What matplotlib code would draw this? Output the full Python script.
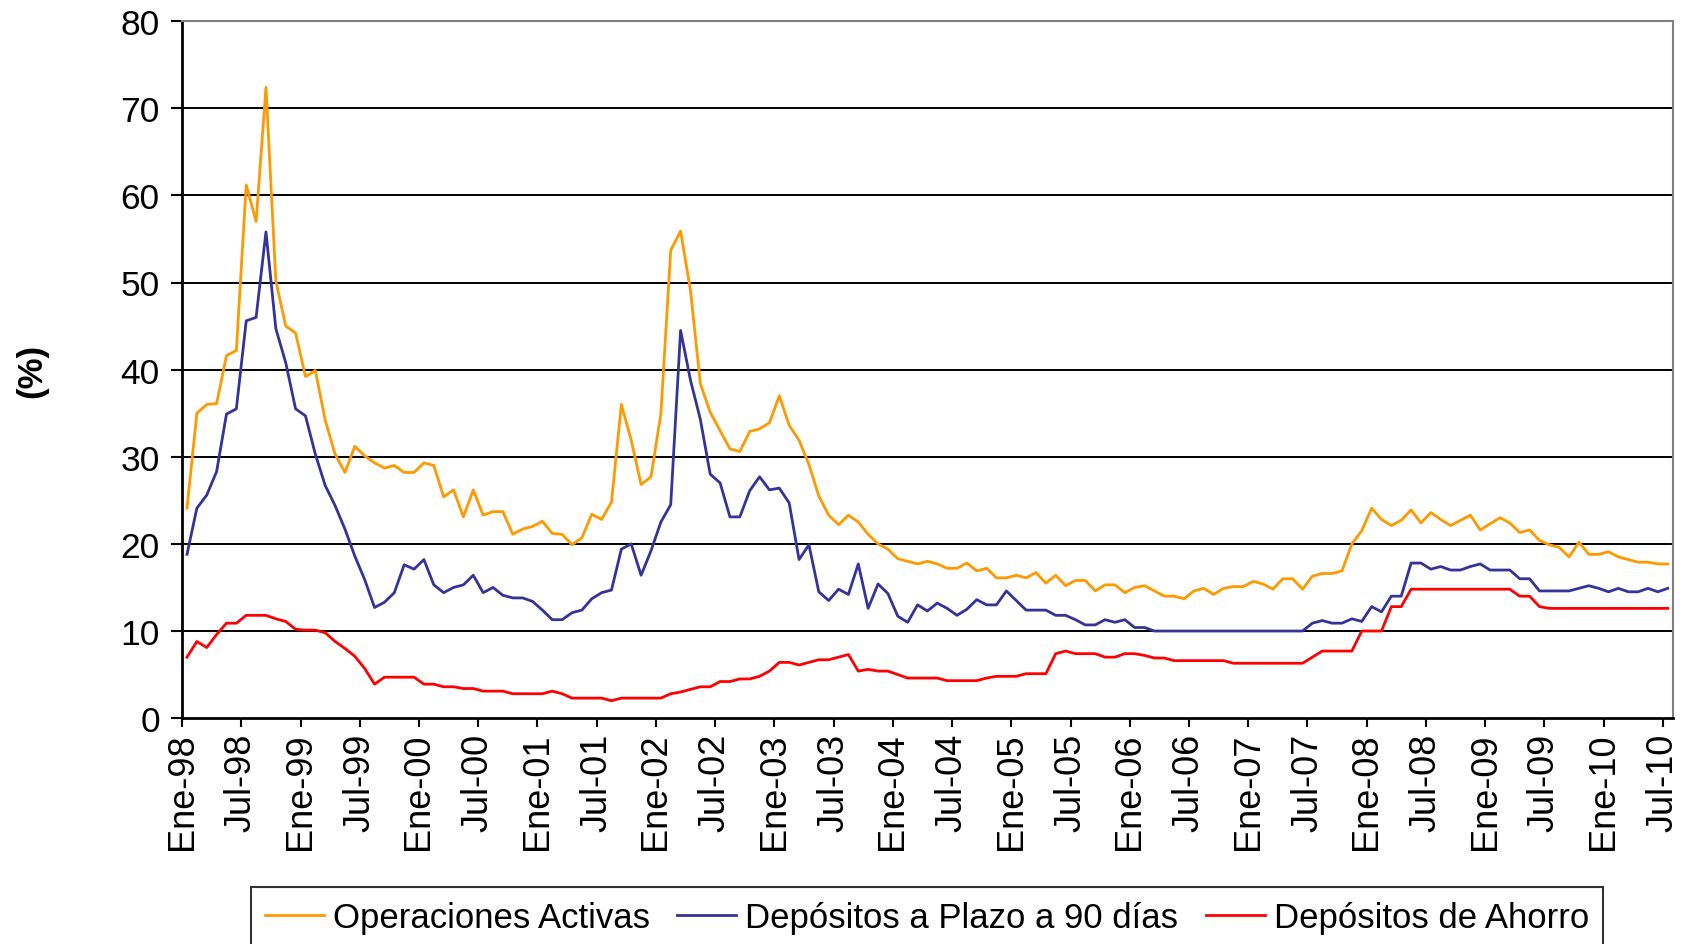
import numpy as np
import matplotlib
matplotlib.use("Agg")
import matplotlib.pyplot as plt

plt.rcParams['font.family'] = ['Liberation Sans', 'DejaVu Sans']

# Tasas mensuales, Ene-98 a Jul-10 (%)
operaciones_activas = [
    24.1, 35.0, 36.0, 36.1, 41.6, 42.2, 61.2, 57.0, 72.4, 50.2, 45.0, 44.2,
    39.2, 39.9, 34.2, 30.3, 28.2, 31.2, 30.1, 29.3, 28.7, 29.0, 28.2, 28.2,
    29.3, 29.0, 25.4, 26.2, 23.1, 26.2, 23.3, 23.7, 23.7, 21.1, 21.7, 22.0,
    22.6, 21.2, 21.1, 19.9, 20.7, 23.4, 22.8, 24.8, 36.0, 31.9, 26.8, 27.7,
    34.9, 53.7, 55.9, 49.1, 38.4, 35.1, 33.0, 30.9, 30.6, 32.9, 33.2, 33.9,
    37.0, 33.6, 31.9, 29.1, 25.5, 23.3, 22.2, 23.3, 22.5, 21.1, 20.0, 19.4,
    18.3, 18.0, 17.7, 18.0, 17.7, 17.2, 17.2, 17.8, 16.9, 17.2, 16.1, 16.1,
    16.4, 16.1, 16.7, 15.5, 16.4, 15.2, 15.8, 15.8, 14.6, 15.3, 15.3, 14.4,
    15.0, 15.2, 14.6, 14.0, 14.0, 13.7, 14.6, 14.9, 14.2, 14.9, 15.1, 15.1,
    15.7, 15.4, 14.8, 16.0, 16.0, 14.8, 16.3, 16.6, 16.6, 16.9, 20.0, 21.5,
    24.1, 22.8, 22.1, 22.7, 23.9, 22.4, 23.6, 22.8, 22.1, 22.7, 23.3, 21.6,
    22.3, 23.0, 22.4, 21.3, 21.6, 20.4, 19.9, 19.6, 18.5, 20.2, 18.8, 18.8,
    19.1, 18.5, 18.2, 17.9, 17.9, 17.7, 17.7,
]

depositos_plazo_90 = [
    18.8, 24.1, 25.6, 28.3, 34.9, 35.5, 45.6, 46.0, 55.8, 44.7, 40.8, 35.5,
    34.7, 30.3, 26.7, 24.4, 21.7, 18.6, 15.9, 12.7, 13.3, 14.4, 17.6, 17.1,
    18.2, 15.3, 14.4, 15.0, 15.3, 16.4, 14.4, 15.0, 14.1, 13.8, 13.8, 13.4,
    12.4, 11.3, 11.3, 12.1, 12.4, 13.7, 14.4, 14.7, 19.4, 20.0, 16.4, 19.2,
    22.5, 24.5, 44.5, 38.8, 34.3, 28.0, 27.0, 23.1, 23.1, 26.1, 27.7, 26.2,
    26.4, 24.7, 18.2, 19.9, 14.5, 13.5, 14.8, 14.2, 17.7, 12.6, 15.4, 14.3,
    11.7, 11.0, 13.0, 12.3, 13.2, 12.6, 11.8, 12.5, 13.6, 13.0, 13.0, 14.6,
    13.5, 12.4, 12.4, 12.4, 11.8, 11.8, 11.3, 10.7, 10.7, 11.3, 11.0, 11.3,
    10.4, 10.4, 10.0, 10.0, 10.0, 10.0, 10.0, 10.0, 10.0, 10.0, 10.0, 10.0,
    10.0, 10.0, 10.0, 10.0, 10.0, 10.0, 10.9, 11.2, 10.9, 10.9, 11.4, 11.1,
    12.8, 12.2, 14.0, 14.0, 17.8, 17.8, 17.1, 17.4, 17.0, 17.0, 17.4, 17.7,
    17.0, 17.0, 17.0, 16.0, 16.0, 14.6, 14.6, 14.6, 14.6, 14.9, 15.2, 14.9,
    14.5, 14.9, 14.5, 14.5, 14.9, 14.5, 14.9,
]

depositos_ahorro = [
    7.0, 8.8, 8.1, 9.6, 10.9, 10.9, 11.8, 11.8, 11.8, 11.4, 11.1, 10.2,
    10.1, 10.1, 9.8, 8.8, 8.0, 7.1, 5.7, 3.9, 4.7, 4.7, 4.7, 4.7,
    3.9, 3.9, 3.6, 3.6, 3.4, 3.4, 3.1, 3.1, 3.1, 2.8, 2.8, 2.8,
    2.8, 3.1, 2.8, 2.3, 2.3, 2.3, 2.3, 2.0, 2.3, 2.3, 2.3, 2.3,
    2.3, 2.8, 3.0, 3.3, 3.6, 3.6, 4.2, 4.2, 4.5, 4.5, 4.8, 5.4,
    6.4, 6.4, 6.1, 6.4, 6.7, 6.7, 7.0, 7.3, 5.4, 5.6, 5.4, 5.4,
    5.0, 4.6, 4.6, 4.6, 4.6, 4.3, 4.3, 4.3, 4.3, 4.6, 4.8, 4.8,
    4.8, 5.1, 5.1, 5.1, 7.4, 7.7, 7.4, 7.4, 7.4, 7.0, 7.0, 7.4,
    7.4, 7.2, 6.9, 6.9, 6.6, 6.6, 6.6, 6.6, 6.6, 6.6, 6.3, 6.3,
    6.3, 6.3, 6.3, 6.3, 6.3, 6.3, 7.0, 7.7, 7.7, 7.7, 7.7, 10.0,
    10.0, 10.0, 12.8, 12.8, 14.8, 14.8, 14.8, 14.8, 14.8, 14.8, 14.8, 14.8,
    14.8, 14.8, 14.8, 14.0, 14.0, 12.8, 12.6, 12.6, 12.6, 12.6, 12.6, 12.6,
    12.6, 12.6, 12.6, 12.6, 12.6, 12.6, 12.6,
]

tick_labels = [
    "Ene-98", "Jul-98", "Ene-99", "Jul-99", "Ene-00", "Jul-00", "Ene-01",
    "Jul-01", "Ene-02", "Jul-02", "Ene-03", "Jul-03", "Ene-04", "Jul-04",
    "Ene-05", "Jul-05", "Ene-06", "Jul-06", "Ene-07", "Jul-07", "Ene-08",
    "Jul-08", "Ene-09", "Jul-09", "Ene-10", "Jul-10",
]

meses = np.arange(len(operaciones_activas))

fig = plt.figure(figsize=(16.92, 9.45), dpi=100)
ax = fig.add_axes([0.1076, 0.239, 0.881, 0.7376])

ax.plot(meses, operaciones_activas, color='#FF9900', lw=2.0, label='Operaciones Activas')
ax.plot(meses, depositos_plazo_90, color='#333399', lw=2.0, label='Depósitos a Plazo a 90 días')
ax.plot(meses, depositos_ahorro, color='#FF0000', lw=2.0, label='Depósitos de Ahorro')

ax.set_xlim(-0.5, len(meses) - 0.5)
ax.set_ylim(0, 80)
ax.set_yticks(range(0, 81, 10))
ax.set_xticks(np.arange(0, len(meses), 6) - 0.5)
ax.set_xticklabels(tick_labels, rotation=90)

for v in range(10, 80, 10):
    ax.axhline(v, color='black', lw=1.4, zorder=0)

ax.spines['left'].set_linewidth(2)
ax.spines['bottom'].set_linewidth(2)
ax.spines['top'].set_color('#808080')
ax.spines['right'].set_color('#808080')
ax.spines['top'].set_linewidth(1.5)
ax.spines['right'].set_linewidth(1.5)

ax.tick_params(axis='y', length=8, width=1.5, labelsize=25.5, pad=8)
ax.tick_params(axis='x', length=6.5, width=1.5, labelsize=26, pad=4)

ax.set_ylabel('(%)', fontsize=25, fontweight='bold', labelpad=52)

fig.legend(loc='upper center', bbox_to_anchor=(0.5478, 0.0603), ncol=3,
           fontsize=25, frameon=True, fancybox=False, edgecolor='black',
           handlelength=1.7, columnspacing=0.8, handletextpad=0.25,
           borderpad=0.4, borderaxespad=0).get_frame().set_linewidth(1.5)

fig.savefig('out.png', dpi=100)
